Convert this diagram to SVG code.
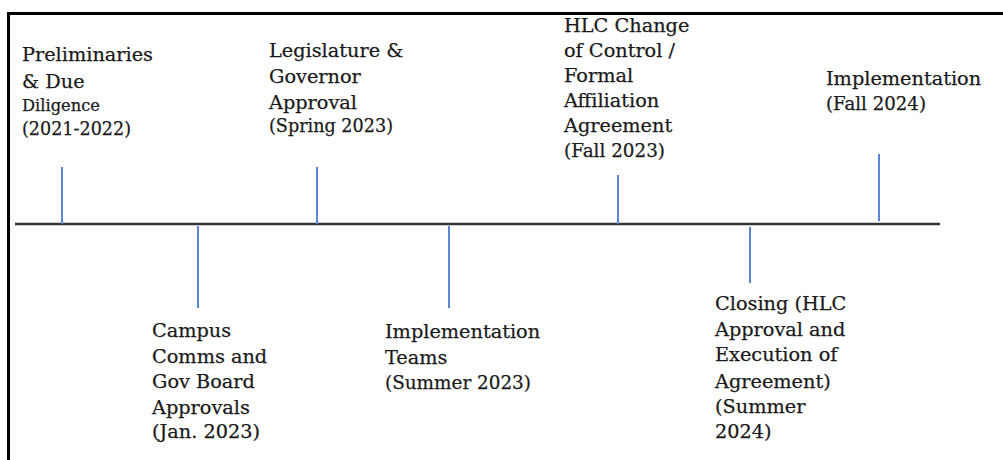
<svg xmlns="http://www.w3.org/2000/svg" width="1003" height="460" viewBox="0 0 1003 460">
<style>
.lbl{font-family:"DejaVu Serif","Liberation Serif",serif;font-size:19.3px;fill:#1a1a1a;stroke:#1a1a1a;stroke-width:0.25}
.sm{font-size:16.3px}
.tick{stroke:#5b86d6;stroke-width:2}
.axis{stroke:#333;stroke-width:2.5}
.frame{stroke:#000;stroke-width:3;fill:none}
</style>
<rect width="1003" height="460" fill="#fff"/>
<path class="frame" d="M8.5 460 V13.5 H1003"/>
<g id="connectors">
<line class="axis" x1="15" y1="224" x2="940" y2="224"/>
<line class="tick" x1="62" y1="167" x2="62" y2="224"/>
<line class="tick" x1="198" y1="226" x2="198" y2="308"/>
<line class="tick" x1="317" y1="167" x2="317" y2="224"/>
<line class="tick" x1="449" y1="226" x2="449" y2="308"/>
<line class="tick" x1="618" y1="175" x2="618" y2="224"/>
<line class="tick" x1="750" y1="227" x2="750" y2="283"/>
<line class="tick" x1="879" y1="154" x2="879" y2="221"/>
</g>
<g id="n1"><text class="lbl"><tspan x="22" y="61">Preliminaries</tspan><tspan x="22" y="88">&amp; Due</tspan><tspan x="22" y="111" class="sm">Diligence</tspan></text><text class="lbl" x="22" y="135" textLength="109" lengthAdjust="spacingAndGlyphs">(2021-2022)</text></g>
<g id="n2"><text class="lbl"><tspan x="152" y="337">Campus</tspan><tspan x="152" y="363">Comms and</tspan><tspan x="152" y="388">Gov Board</tspan><tspan x="152" y="414">Approvals</tspan><tspan x="152" y="438">(Jan. 2023)</tspan></text></g>
<g id="n3"><text class="lbl"><tspan x="269" y="57">Legislature &amp;</tspan><tspan x="269" y="83">Governor</tspan><tspan x="269" y="109">Approval</tspan></text><text class="lbl" x="269" y="132" textLength="124" lengthAdjust="spacingAndGlyphs">(Spring 2023)</text></g>
<g id="n4"><text class="lbl"><tspan x="385" y="338">Implementation</tspan><tspan x="385" y="364">Teams</tspan></text><text class="lbl" x="385" y="389" textLength="146" lengthAdjust="spacingAndGlyphs">(Summer 2023)</text></g>
<g id="n5"><text class="lbl"><tspan x="564" y="32">HLC Change</tspan><tspan x="564" y="57">of Control /</tspan><tspan x="564" y="82">Formal</tspan><tspan x="564" y="107">Affiliation</tspan><tspan x="564" y="132">Agreement</tspan></text><text class="lbl" x="564" y="157" textLength="101" lengthAdjust="spacingAndGlyphs">(Fall 2023)</text></g>
<g id="n6"><text class="lbl"><tspan x="715" y="310">Closing (HLC</tspan><tspan x="715" y="336">Approval and</tspan><tspan x="715" y="361">Execution of</tspan><tspan x="715" y="388">Agreement)</tspan><tspan x="715" y="413">(Summer</tspan><tspan x="715" y="438">2024)</tspan></text></g>
<g id="n7"><text class="lbl"><tspan x="826" y="85">Implementation</tspan></text><text class="lbl" x="826" y="110" textLength="100" lengthAdjust="spacingAndGlyphs">(Fall 2024)</text></g>
</svg>
